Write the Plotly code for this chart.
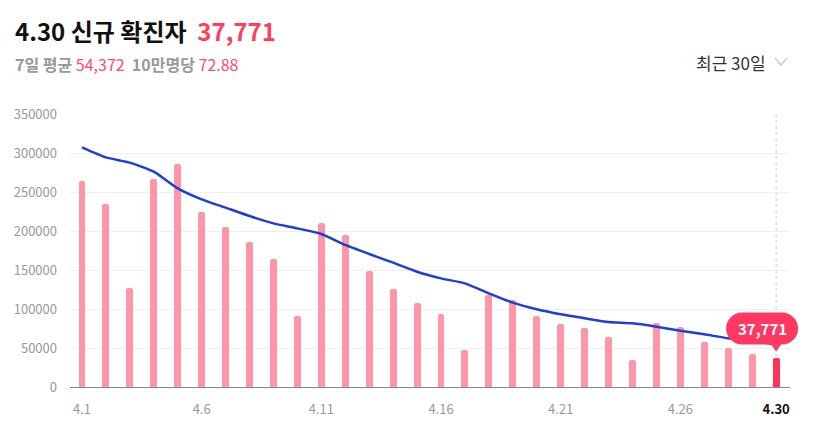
# 4월 신규 확진자 bar chart with 7-day average line

import plotly.graph_objects as go

# data
dates = [f"4.{d}" for d in range(1, 31)]
new_cases = [
    264171, 234301, 127190, 266135, 286294, 224820, 205333, 185566, 164481, 90928,
    210755, 195419, 148443, 125846, 107916, 93001, 47743, 118504, 111319, 90867,
    81058, 75449, 64725, 34370, 81595, 76787, 57464, 50568, 42296, 37771,
]
avg_7day = [
    307300, 294400, 287600, 276000, 254700, 240600, 229900, 219200, 209800, 203400,
    196200, 182100, 170500, 159400, 147800, 139300, 132900, 120100, 108100, 99600,
    93200, 88100, 83300, 81600, 77300, 72200, 67600, 62400, 59800, 54372,
]
y_ticks = [0, 50000, 100000, 150000, 200000, 250000, 300000, 350000]
x_tick_idx = [0, 5, 10, 15, 20, 25, 29]

PINK = "#ff96a8"
RED = "#ff3358"
BLUE = "#1f3ed2"
FONT = "Noto Sans CJK KR"

W, H = 815, 435
ml, mr, mt, mb = 70, 25, 114, 48
pw, ph = W - ml - mr, H - mt - mb
x_range = [-0.5, 29.58]
y_range = [0, 350000]


def px(x):
    return (x - ml) / pw


def py(y):
    return (H - mb - y) / ph


last = len(dates) - 1
bar_colors = [PINK] * last + [RED]

fig = go.Figure()

fig.add_trace(
    go.Bar(
        x=list(range(len(dates))),
        y=new_cases,
        marker=dict(color=bar_colors, cornerradius=4, line=dict(width=0)),
        width=0.29,
        hoverinfo="skip",
    )
)
fig.add_trace(
    go.Scatter(
        x=list(range(len(dates))),
        y=avg_7day,
        mode="lines",
        line=dict(color=BLUE, width=2.5, shape="spline", smoothing=0.5),
        hoverinfo="skip",
    )
)

# hover guide line at the last day
fig.add_shape(
    type="line",
    x0=last, x1=last, y0=0, y1=1,
    xref="x", yref="paper",
    line=dict(color="#cccccc", width=1, dash="dot"),
    layer="below",
)

# tooltip bubble, pixel path anchored on the last bar (paper ref so it isn't clipped)
anchor_x = (last - x_range[0]) / (x_range[1] - x_range[0])
anchor_y = (new_cases[last] - y_range[0]) / (y_range[1] - y_range[0])
r = 16
L, R, B, T = -50, 22, 13, 45
k = r * 0.55
bubble = (
    f"M {L + r},{B} L {-5},{B} L 0,{B - 7} L 5,{B} L {R - r},{B} "
    f"C {R - r + k},{B} {R},{B + r - k} {R},{B + r} "
    f"C {R},{T - r + k} {R - r + k},{T} {R - r},{T} "
    f"L {L + r},{T} "
    f"C {L + r - k},{T} {L},{T - r + k} {L},{T - r} "
    f"C {L},{B + r - k} {L + r - k},{B} {L + r},{B} Z"
)
fig.add_shape(
    type="path",
    path=bubble,
    xref="paper", yref="paper",
    xsizemode="pixel", ysizemode="pixel",
    xanchor=anchor_x, yanchor=anchor_y,
    fillcolor="#ff3862",
    line=dict(width=0),
)
fig.add_annotation(
    x=last, y=new_cases[last],
    text=f"<b>{new_cases[last]:,}</b>",
    showarrow=False,
    xshift=-14, yshift=29,
    font=dict(family=FONT, size=15, color="white"),
)

# header texts
fig.add_annotation(
    x=px(13), y=py(31), xref="paper", yref="paper",
    text=(
        "<b>4.30 신규 확진자</b>  "
        f"<span style='color:#ff3d5e'><b>{new_cases[last]:,}</b></span>"
    ),
    showarrow=False, xanchor="left", yanchor="middle",
    font=dict(family=FONT, size=24, color="#111111"),
)
fig.add_annotation(
    x=px(13), y=py(64), xref="paper", yref="paper",
    text=(
        "<b>7일 평균</b> <span style='color:#ff4d6a'>54,372</span>  "
        "<b>10만명당</b> <span style='color:#ff4d6a'>72.88</span>"
    ),
    showarrow=False, xanchor="left", yanchor="middle",
    font=dict(family=FONT, size=16, color="#999999"),
)
fig.add_annotation(
    x=px(768), y=py(62), xref="paper", yref="paper",
    text="최근 30일",
    showarrow=False, xanchor="right", yanchor="middle",
    font=dict(family=FONT, size=17, color="#333333"),
)
# dropdown chevron
fig.add_shape(
    type="path",
    xref="paper", yref="paper",
    path=f"M {px(775)},{py(58)} L {px(781)},{py(65)} L {px(787)},{py(58)}",
    line=dict(color="#cccccc", width=1.5),
)

ticktext = [dates[i] for i in x_tick_idx]
ticktext[-1] = f"<span style='color:#111111'><b>{dates[last]}</b></span>"

fig.update_xaxes(
    range=x_range,
    tickvals=x_tick_idx,
    ticktext=ticktext,
    showgrid=False,
    showline=True,
    linecolor="#888888",
    linewidth=1,
    ticks="",
    ticklabelstandoff=10,
    tickfont=dict(family=FONT, size=13, color="#999999"),
    fixedrange=True,
)
fig.update_yaxes(
    range=y_range,
    tickvals=y_ticks,
    tickformat="d",
    showgrid=True,
    gridcolor="#eeeeee",
    gridwidth=1,
    zeroline=False,
    showline=False,
    ticks="",
    ticklabelstandoff=12,
    tickfont=dict(family=FONT, size=13, color="#999999"),
    fixedrange=True,
)
fig.update_layout(
    width=W,
    height=H,
    margin=dict(l=ml, r=mr, t=mt, b=mb, pad=0),
    plot_bgcolor="white",
    paper_bgcolor="white",
    showlegend=False,
    bargap=0,
    font=dict(family=FONT),
)

fig.write_html(
    "out.html",
    config={"displayModeBar": False},
    post_script="document.body.style.margin='0';",
)
